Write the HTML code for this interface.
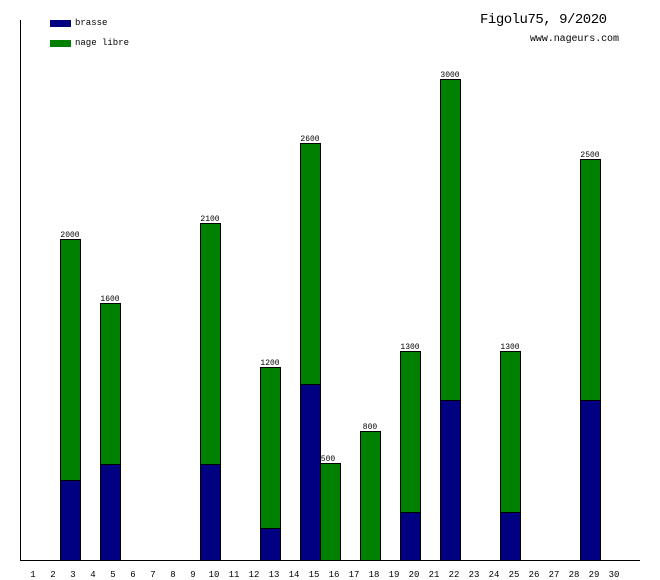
<!DOCTYPE html>
<html><head><style>html,body{margin:0;padding:0;background:#fff}svg{display:block}</style></head>
<body>
<svg width="660" height="580" xmlns="http://www.w3.org/2000/svg" shape-rendering="crispEdges" font-family="Liberation Mono, DejaVu Sans Mono, monospace">
<rect width="660" height="580" fill="#fff"/>
<line x1="20.5" y1="20" x2="20.5" y2="561" stroke="#000"/>
<line x1="20" y1="560.5" x2="640" y2="560.5" stroke="#000"/>
<rect x="50" y="20" width="21" height="7" fill="#000080"/>
<rect x="50" y="40" width="21" height="7" fill="#008000"/>
<text x="75" y="25" font-size="9" fill="#000">brasse</text>
<text x="75" y="45" font-size="9" fill="#000">nage libre</text>
<text x="480" y="23" font-size="14" fill="#000" textLength="127">Figolu75, 9/2020</text>
<text x="530" y="41" font-size="10" fill="#000" textLength="89">www.nageurs.com</text>
<g stroke="#000" stroke-width="1">
<!-- day, total, brasse -->
<rect x="60.5" y="239.5" width="20" height="241" fill="#008000"/><rect x="60.5" y="480.5" width="20" height="80" fill="#000080"/>
<rect x="100.5" y="303.5" width="20" height="161" fill="#008000"/><rect x="100.5" y="464.5" width="20" height="96" fill="#000080"/>
<rect x="200.5" y="223.5" width="20" height="241" fill="#008000"/><rect x="200.5" y="464.5" width="20" height="96" fill="#000080"/>
<rect x="260.5" y="367.5" width="20" height="161" fill="#008000"/><rect x="260.5" y="528.5" width="20" height="32" fill="#000080"/>
<rect x="300.5" y="143.5" width="20" height="241" fill="#008000"/><rect x="300.5" y="384.5" width="20" height="176" fill="#000080"/>
<rect x="320.5" y="463.5" width="20" height="97" fill="#008000"/>
<rect x="360.5" y="431.5" width="20" height="129" fill="#008000"/>
<rect x="400.5" y="351.5" width="20" height="161" fill="#008000"/><rect x="400.5" y="512.5" width="20" height="48" fill="#000080"/>
<rect x="440.5" y="79.5" width="20" height="321" fill="#008000"/><rect x="440.5" y="400.5" width="20" height="160" fill="#000080"/>
<rect x="500.5" y="351.5" width="20" height="161" fill="#008000"/><rect x="500.5" y="512.5" width="20" height="48" fill="#000080"/>
<rect x="580.5" y="159.5" width="20" height="241" fill="#008000"/><rect x="580.5" y="400.5" width="20" height="160" fill="#000080"/>
</g>
<g font-size="8" fill="#000" text-anchor="middle">
<text x="70" y="237">2000</text><text x="110" y="301">1600</text><text x="210" y="221">2100</text>
<text x="270" y="365">1200</text><text x="310" y="141">2600</text><text x="328" y="461">500</text>
<text x="370" y="429">800</text><text x="410" y="349">1300</text><text x="450" y="77">3000</text>
<text x="510" y="349">1300</text><text x="590" y="157">2500</text>
</g>
<g font-size="9" fill="#000" text-anchor="middle">
<text x="33" y="577">1</text><text x="53" y="577">2</text><text x="73" y="577">3</text><text x="93" y="577">4</text><text x="113" y="577">5</text><text x="133" y="577">6</text><text x="153" y="577">7</text><text x="173" y="577">8</text><text x="193" y="577">9</text><text x="214" y="577">10</text>
<text x="234" y="577">11</text><text x="254" y="577">12</text><text x="274" y="577">13</text><text x="294" y="577">14</text><text x="314" y="577">15</text><text x="334" y="577">16</text><text x="354" y="577">17</text><text x="374" y="577">18</text><text x="394" y="577">19</text><text x="414" y="577">20</text>
<text x="434" y="577">21</text><text x="454" y="577">22</text><text x="474" y="577">23</text><text x="494" y="577">24</text><text x="514" y="577">25</text><text x="534" y="577">26</text><text x="554" y="577">27</text><text x="574" y="577">28</text><text x="594" y="577">29</text><text x="614" y="577">30</text>
</g>
</svg>
</body></html>
